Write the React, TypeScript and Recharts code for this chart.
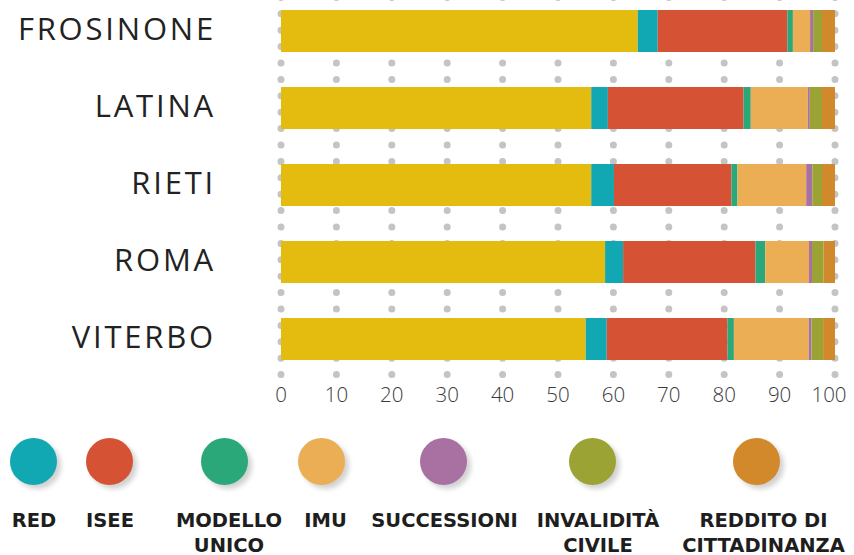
import React from "react";
import { BarChart, Bar, XAxis, YAxis, CartesianGrid } from "recharts";

const categories = ["FROSINONE", "LATINA", "RIETI", "ROMA", "VITERBO"];
const modello730 = [64.4, 56.0, 56.0, 58.5, 55.0];
const red = [3.6, 3.0, 4.1, 3.25, 3.8];
const isee = [23.4, 24.5, 21.2, 23.9, 21.8];
const modelloUnico = [1.0, 1.3, 1.1, 1.75, 1.15];
const imu = [3.1, 10.3, 12.4, 7.9, 13.5];
const successioni = [0.55, 0.35, 1.1, 0.55, 0.5];
const invalidita = [1.6, 2.2, 1.75, 2.1, 2.1];
const reddito = [2.35, 2.35, 2.35, 2.05, 2.15];
const xTicks = [0, 10, 20, 30, 40, 50, 60, 70, 80, 90, 100];

const series = [
  { key: "m730", name: "730", values: modello730, color: "#E4BC10", legend: null },
  { key: "red", name: "RED", values: red, color: "#11A7B3", legend: ["RED"] },
  { key: "isee", name: "ISEE", values: isee, color: "#D55334", legend: ["ISEE"] },
  { key: "unico", name: "MODELLO UNICO", values: modelloUnico, color: "#2BA87A", legend: ["MODELLO", "UNICO"] },
  { key: "imu", name: "IMU", values: imu, color: "#EBAE55", legend: ["IMU"] },
  { key: "succ", name: "SUCCESSIONI", values: successioni, color: "#A971A1", legend: ["SUCCESSIONI"] },
  { key: "inv", name: "INVALIDITÀ CIVILE", values: invalidita, color: "#9CA335", legend: ["INVALIDITÀ", "CIVILE"] },
  { key: "rdc", name: "REDDITO DI CITTADINANZA", values: reddito, color: "#D2892C", legend: ["REDDITO DI", "CITTADINANZA"] },
];

// legend layout (style only): circle centre and text centre
const legendLayout = [
  { cx: 33.5, tx: 34 },
  { cx: 109.5, tx: 110 },
  { cx: 224, tx: 229 },
  { cx: 321, tx: 325.5 },
  { cx: 443, tx: 444.5 },
  { cx: 592, tx: 598 },
  { cx: 756, tx: 763.5 },
];

const data = categories.map((name, i) => {
  const row: any = { name };
  series.forEach((s) => {
    row[s.key] = s.values[i];
  });
  return row;
});

const YTick = (props: any) => {
  const { x, y, payload } = props;
  return (
    <text
      x={x}
      y={y}
      dy={9}
      textAnchor="end"
      fill="#222"
      fontFamily="'Open Sans', sans-serif"
      fontWeight={400}
      fontSize={31}
      letterSpacing={2.8}
    >
      {payload.value}
    </text>
  );
};

const XTick = (props: any) => {
  const { x, y, payload } = props;
  return (
    <text
      x={x}
      y={y}
      dy={15}
      dx={payload.value === 100 ? -6 : 0}
      textAnchor="middle"
      fill="#3a3a3a"
      fontFamily="'Open Sans', sans-serif"
      fontWeight={300}
      fontSize={20.5}
    >
      {payload.value}
    </text>
  );
};

const LegendBlock = () => {
  const items = series.filter((s) => s.legend);
  return (
    <>
      {items.map((s, i) => {
        const l = legendLayout[i];
        return (
          <React.Fragment key={s.key}>
            <div
              style={{
                position: "absolute",
                left: l.cx - 23.5,
                top: 437.5,
                width: 47,
                height: 47,
                borderRadius: "50%",
                background: s.color,
                boxShadow: "4px 4px 5px rgba(0,0,0,0.18)",
              }}
            />
            <div
              style={{
                position: "absolute",
                left: l.tx - 100,
                top: 509,
                width: 200,
                textAlign: "center",
                whiteSpace: "nowrap",
                fontFamily: "'DejaVu Sans', sans-serif",
                fontWeight: 700,
                fontSize: 19.5,
                lineHeight: "24.5px",
                color: "#1e1e1e",
              }}
            >
              {s.legend!.map((t, k) => (
                <div key={k}>{t}</div>
              ))}
            </div>
          </React.Fragment>
        );
      })}
    </>
  );
};

export default function App() {
  return (
    <div
      style={{
        position: "fixed",
        left: 0,
        top: 0,
        width: 854,
        height: 555,
        overflow: "hidden",
        background: "#fff",
      }}
    >
      <div style={{ position: "absolute", left: 0, top: -8.5 }}>
        <BarChart
          width={854}
          height={425}
          data={data}
          layout="vertical"
          margin={{ top: 0, right: 19, bottom: 0, left: 0 }}
          barCategoryGap={35}
        >
          <CartesianGrid
            horizontal={false}
            vertical={true}
            stroke="#C4C4C4"
            strokeWidth={7}
            strokeLinecap="round"
            strokeDasharray="0 16.4"
            strokeDashoffset={11}
          />
          <XAxis
            type="number"
            domain={[0, 100]}
            ticks={xTicks}
            axisLine={false}
            tickLine={false}
            tickSize={0}
            tickMargin={10}
            height={40}
            interval={0}
            tick={<XTick />}
          />
          <YAxis
            type="category"
            dataKey="name"
            width={281}
            axisLine={false}
            tickLine={false}
            tickSize={0}
            tickMargin={65}
            interval={0}
            tick={<YTick />}
          />
          {series.map((s) => (
            <Bar
              key={s.key}
              dataKey={s.key}
              name={s.name}
              stackId="a"
              fill={s.color}
              barSize={42}
              isAnimationActive={false}
            />
          ))}
        </BarChart>
      </div>
      <LegendBlock />
    </div>
  );
}
